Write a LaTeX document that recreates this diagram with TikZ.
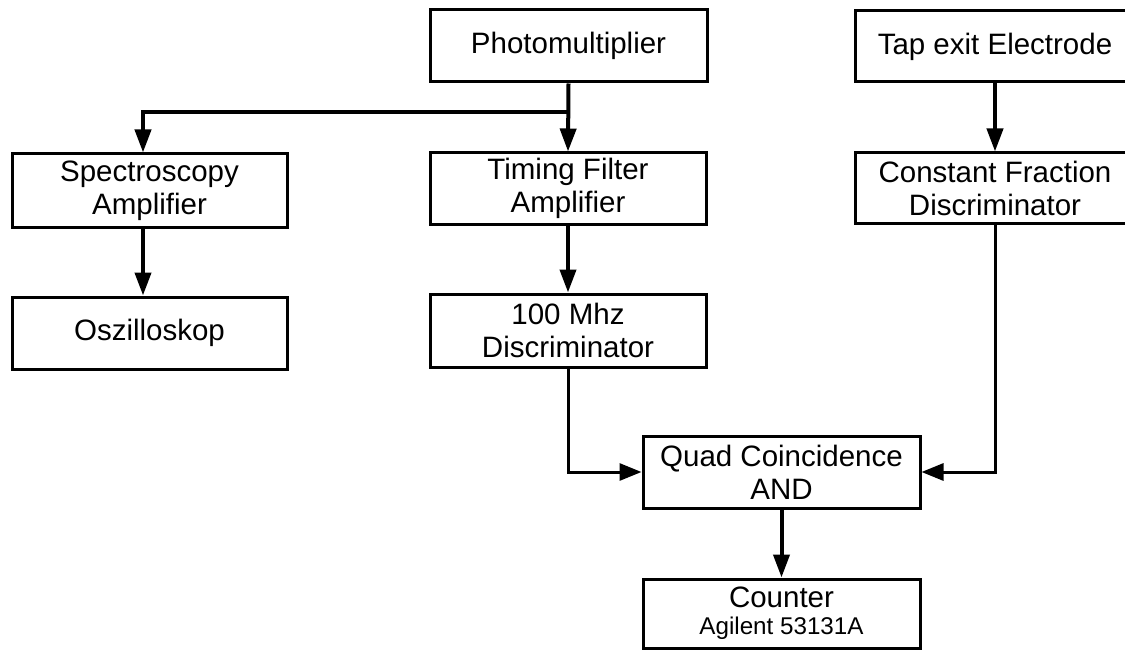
\documentclass[tikz,border=0pt]{standalone}
\usepackage{fontspec}
\setmainfont{Liberation Sans}
\usetikzlibrary{arrows.meta,calc}
\begin{document}
\begin{tikzpicture}[x=1pt,y=-1pt,
  box/.style={draw, line width=3pt, inner sep=0pt, align=center,
    font=\fontsize{29.5}{33}\selectfont},
  thickarrow/.style={line width=4pt, -{Triangle[length=23pt,width=16pt]}},
  thinarrow/.style={line width=3pt, -{Triangle[length=22pt,width=17pt]}}]
\useasboundingbox (0,0) rectangle (1125,650);
\clip (0,0) rectangle (1125,650);
\node[box, minimum width=277pt, minimum height=72pt] (pm) at (568.5,46) {Photomultiplier};
\node[box, minimum width=280pt, minimum height=71pt] (tap) at (995,46.5) {Tap exit Electrode};
\node[box, minimum width=275pt, minimum height=73pt] (spec) at (149.5,190.5) {Spectroscopy\\Amplifier};
\node[box, minimum width=276pt, minimum height=71pt] (tfa) at (568,188.5) {Timing Filter\\Amplifier};
\node[box, minimum width=280pt, minimum height=70pt] (cfd) at (995,188) {Constant Fraction\\Discriminator};
\node[box, minimum width=275pt, minimum height=72pt] (osz) at (149.5,333) {Oszilloskop};
\node[box, minimum width=276pt, minimum height=73pt] (disc) at (568,330.5) {100 Mhz\\Discriminator};
\node[box, minimum width=277pt, minimum height=72pt] (quad) at (781.5,472) {Quad Coincidence\\AND};
\node[box, minimum width=277pt, minimum height=69pt] (cnt) at (781.5,613.5) {Counter\\[-6pt]{\fontsize{24.2}{27}\selectfont Agilent 53131A}};
\coordinate (j) at (568,112);
\draw[thickarrow] (pm.south) -- (tfa.north);
\draw[line width=4pt, -{Triangle[length=23pt,width=16pt]}] (j) -| ([xshift=-6.5pt]spec.north);
\draw[thickarrow] (tap.south) -- (cfd.north);
\draw[thickarrow] ([xshift=-6.5pt]spec.south) -- ([xshift=-6.5pt]osz.north);
\draw[thickarrow] (tfa.south) -- (disc.north);
\draw[thinarrow] (disc.south) |- (quad.west);
\draw[thinarrow] (cfd.south) |- (quad.east);
\draw[thickarrow] (quad.south) -- (cnt.north);
\end{tikzpicture}
\end{document}
